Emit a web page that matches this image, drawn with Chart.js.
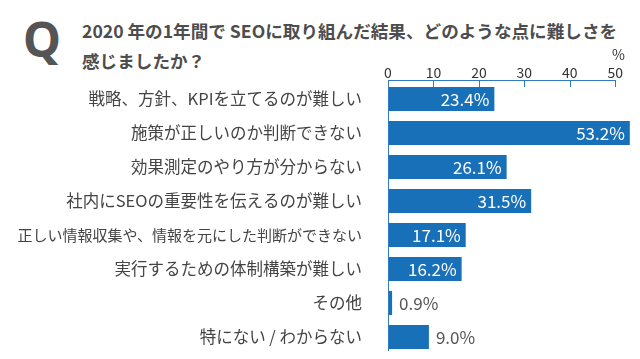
<!DOCTYPE html>
<html><head><meta charset="utf-8">
<script src="https://cdn.jsdelivr.net/npm/chart.js@4/dist/chart.umd.min.js"></script>
<style>
html,body{margin:0;padding:0;background:#fff;}
#wrap{position:relative;width:640px;height:359px;overflow:hidden;font-family:"Noto Sans CJK JP","Noto Sans",sans-serif;}
#q{position:absolute;left:23px;top:15px;font:bold 48px "Noto Sans","Open Sans",sans-serif;color:#555;line-height:48px;}
.t{position:absolute;left:82px;font-weight:bold;font-size:17.6px;color:#4d4d4d;white-space:nowrap;line-height:22px;}
#t1{top:20px} #t2{top:50px}
canvas{position:absolute;left:0;top:0;}
</style></head>
<body>
<div id="wrap">
<div id="q">Q</div>
<div class="t" id="t1">2020 年の1年間で SEOに取り組んだ結果、どのような点に難しさを</div>
<div class="t" id="t2">感じましたか？</div>
<canvas id="c" width="640" height="359"></canvas>
</div>
<script>
const categories = [
  "戦略、方針、KPIを立てるのが難しい",
  "施策が正しいのか判断できない",
  "効果測定のやり方が分からない",
  "社内にSEOの重要性を伝えるのが難しい",
  "正しい情報収集や、情報を元にした判断ができない",
  "実行するための体制構築が難しい",
  "その他",
  "特にない / わからない"
];
const values = [23.4, 53.2, 26.1, 31.5, 17.1, 16.2, 0.9, 9.0];
const xTickValues = [0, 10, 20, 30, 40, 50];
const unitLabel = "%";

const BAR = "#1870b8";
const AXIS = "#2f7cc2";
const FONT = '"Noto Sans CJK JP","Noto Sans",sans-serif';

const overlay = {
  id: "overlay",
  afterDatasetsDraw(chart) {
    const ctx = chart.ctx;
    const xs = chart.scales.x;
    const ca = chart.chartArea;
    const yAxis = ca.top - 2;
    ctx.save();
    ctx.strokeStyle = AXIS;
    ctx.lineWidth = 1;
    ctx.beginPath();
    const x0 = Math.round(xs.getPixelForValue(0)) + 0.5;
    const x50 = Math.round(xs.getPixelForValue(xTickValues[xTickValues.length - 1])) + 0.5;
    ctx.moveTo(x0, yAxis + 0.5);
    ctx.lineTo(x50, yAxis + 0.5);
    xTickValues.forEach(v => {
      const px = Math.round(xs.getPixelForValue(v)) + 0.5;
      ctx.moveTo(px, yAxis);
      ctx.lineTo(px, yAxis + 7);
    });
    ctx.moveTo(x0, yAxis);
    ctx.lineTo(x0, ca.bottom - 3);
    ctx.stroke();

    // unit label
    ctx.fillStyle = "#333";
    ctx.font = "14px " + FONT;
    ctx.textAlign = "center";
    ctx.textBaseline = "middle";
    ctx.fillText(unitLabel, x50 + 3, 55);

    // data labels
    const meta = chart.getDatasetMeta(0);
    ctx.font = "17px " + FONT;
    meta.data.forEach((bar, i) => {
      const v = values[i];
      const txt = v.toFixed(1) + "%";
      if (v >= 12) {
        ctx.fillStyle = "#fff";
        ctx.textAlign = "right";
        ctx.fillText(txt, bar.x - 5, bar.y + 1);
      } else {
        ctx.fillStyle = "#555";
        ctx.textAlign = "left";
        ctx.fillText(txt, bar.x + 7, bar.y + 1);
      }
    });
    ctx.restore();
  }
};

new Chart(document.getElementById("c"), {
  type: "bar",
  data: {
    labels: categories,
    datasets: [{
      data: values,
      backgroundColor: BAR,
      borderWidth: 0,
      barPercentage: 0.71,
      categoryPercentage: 1.0
    }]
  },
  options: {
    indexAxis: "y",
    responsive: false,
    animation: false,
    devicePixelRatio: 1,
    layout: { padding: { top: 0, right: 2, left: 0, bottom: 5 } },
    plugins: { legend: { display: false }, tooltip: { enabled: false } },
    scales: {
      x: {
        position: "top",
        min: 0,
        max: 55,
        grid: { display: false },
        border: { display: false },
        ticks: { stepSize: 10, color: "#333", font: { size: 14, family: FONT }, padding: -7 },
        afterBuildTicks(scale) {
          scale.ticks = xTickValues.map(v => ({ value: v }));
        },
        afterFit(scale) { scale.height = 82; scale.paddingLeft = 0; scale.paddingRight = 0; }
      },
      y: {
        grid: { display: false },
        border: { display: false },
        ticks: {
          color: "#444",
          font: (c) => ({ size: (c.index === 4 ? 15 : 16.5), family: FONT }),
          padding: 18
        },
        afterFit(scale) { scale.width = 388; scale.paddingTop = 0; scale.paddingBottom = 0; }
      }
    }
  },
  plugins: [overlay]
});
</script>
</body></html>
